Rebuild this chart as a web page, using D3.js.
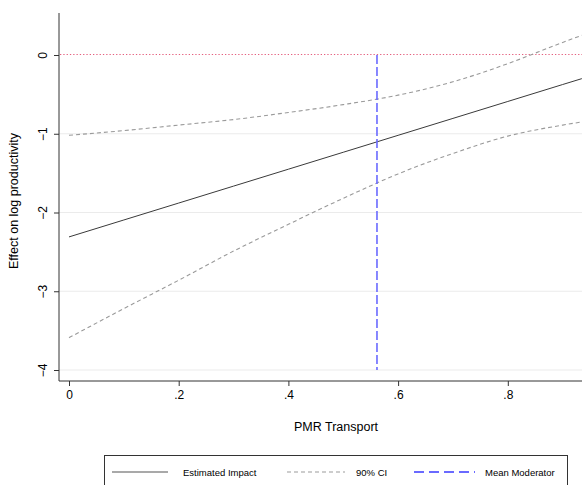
<!DOCTYPE html>
<html>
<head>
<meta charset="utf-8">
<script src="https://cdn.jsdelivr.net/npm/d3@7"></script>
<style>
  body { margin: 0; background: #fff; }
  svg { font-family: "Liberation Sans", Arial, sans-serif; display: block; }
</style>
</head>
<body>
<svg id="chart"></svg>
<script>
// values
const pmr = [0, 0.1, 0.2, 0.3, 0.4, 0.5, 0.6, 0.7, 0.8, 0.9, 0.935];
const estimate = [-2.31, -2.095, -1.88, -1.665, -1.45, -1.235, -1.02, -0.805, -0.59, -0.375, -0.30];
const ciUpper = [-1.02, -0.96, -0.89, -0.82, -0.73, -0.63, -0.51, -0.34, -0.11, 0.16, 0.25];
const ciLower = [-3.59, -3.22, -2.86, -2.49, -2.15, -1.82, -1.51, -1.25, -1.03, -0.89, -0.85];
const meanModerator = 0.5615;
const xTicks = [0, 0.2, 0.4, 0.6, 0.8];
const yTicks = [0, -1, -2, -3, -4];
const legendLabels = ["Estimated Impact", "90% CI", "Mean Moderator"];

const width = 582, height = 485;
const svg = d3.select("#chart").attr("width", width).attr("height", height);

const axisX = 59, axisY = 381, axisTop = 13;
const x = d3.scaleLinear().domain([0, 1]).range([69, 617.5]);
const y = d3.scaleLinear().domain([-4, 0]).range([370, 55]);

// gridlines
svg.append("g").selectAll("line")
  .data(yTicks.filter(d => d !== 0)).enter()
  .append("line")
  .attr("x1", axisX).attr("x2", width)
  .attr("y1", d => y(d)).attr("y2", d => y(d))
  .attr("stroke", "#ebebeb").attr("stroke-width", 1);

// zero reference line
svg.append("line")
  .attr("x1", axisX + 1).attr("x2", width)
  .attr("y1", Math.round(y(0)) - 0.5).attr("y2", Math.round(y(0)) - 0.5)
  .attr("stroke", "#e5607f").attr("stroke-width", 1.2)
  .attr("stroke-dasharray", "1.3,2");

const pts = (vals) => pmr.map((p, i) => [p, vals[i]]);
const line = d3.line().x(d => x(d[0])).y(d => y(d[1])).curve(d3.curveMonotoneX);

svg.append("path").datum(pts(ciUpper))
  .attr("d", line).attr("fill", "none")
  .attr("stroke", "#9a9a9a").attr("stroke-width", 1.1).attr("stroke-dasharray", "4,3");
svg.append("path").datum(pts(ciLower))
  .attr("d", line).attr("fill", "none")
  .attr("stroke", "#9a9a9a").attr("stroke-width", 1.1).attr("stroke-dasharray", "4,3");
svg.append("path").datum(pts(estimate))
  .attr("d", line).attr("fill", "none")
  .attr("stroke", "#3a3a3a").attr("stroke-width", 1);

// mean moderator
svg.append("line")
  .attr("x1", x(meanModerator)).attr("x2", x(meanModerator))
  .attr("y1", y(0)).attr("y2", y(-4))
  .attr("stroke", "#6a6aff").attr("stroke-width", 1.6)
  .attr("stroke-dasharray", "9,3");

// axes
const yAxis = d3.axisLeft(y).tickValues(yTicks).tickSize(5).tickSizeOuter(0)
  .tickFormat(d3.format("d"));
const gy = svg.append("g").attr("transform", `translate(${axisX},0)`).call(yAxis);
gy.select(".domain").remove();
gy.selectAll(".tick line").attr("stroke", "#333");
gy.selectAll(".tick text")
  .attr("font-size", 12).attr("fill", "#000")
  .attr("transform", "rotate(-90)")
  .attr("x", 0).attr("dx", 0).attr("dy", 0)
  .attr("y", -12)
  .attr("text-anchor", "middle");

const xAxis = d3.axisBottom(x).tickValues(xTicks).tickSize(5).tickSizeOuter(0)
  .tickFormat(d => d === 0 ? "0" : d3.format(".1f")(d).replace(/^0/, ""));
const gx = svg.append("g").attr("transform", `translate(0,${axisY})`).call(xAxis);
gx.select(".domain").remove();
gx.selectAll(".tick line").attr("stroke", "#333");
gx.selectAll(".tick text").attr("font-size", 12).attr("fill", "#000").attr("y", 9);

svg.append("path")
  .attr("d", `M${axisX},${axisTop}V${axisY}H${width}`)
  .attr("fill", "none").attr("stroke", "#333").attr("stroke-width", 1);

// axis titles
svg.append("text")
  .attr("transform", `translate(18,${(axisTop + axisY) / 2 + 4}) rotate(-90)`)
  .attr("text-anchor", "middle").attr("font-size", 12.5)
  .text("Effect on log productivity");
svg.append("text")
  .attr("x", 336).attr("y", 431)
  .attr("text-anchor", "middle").attr("font-size", 12.5)
  .text("PMR Transport");

// legend
const leg = svg.append("g");
leg.append("rect")
  .attr("x", 104.5).attr("y", 455.5).attr("width", 463).attr("height", 40)
  .attr("fill", "#fff").attr("stroke", "#333").attr("stroke-width", 1);
const legItems = [
  { x1: 112, x2: 168, tx: 183, stroke: "#8c8c8c", w: 1.6, dash: null },
  { x1: 287, x2: 345, tx: 356, stroke: "#bdbdbd", w: 1.3, dash: "4,3" },
  { x1: 414, x2: 475, tx: 485, stroke: "#6a6aff", w: 2, dash: "10,5" }
];
legItems.forEach((it, i) => {
  const l = leg.append("line")
    .attr("x1", it.x1).attr("x2", it.x2).attr("y1", 472).attr("y2", 472)
    .attr("stroke", it.stroke).attr("stroke-width", it.w);
  if (it.dash) l.attr("stroke-dasharray", it.dash);
  leg.append("text")
    .attr("x", it.tx).attr("y", 475.5)
    .attr("font-size", 9.5)
    .text(legendLabels[i]);
});
</script>
</body>
</html>
